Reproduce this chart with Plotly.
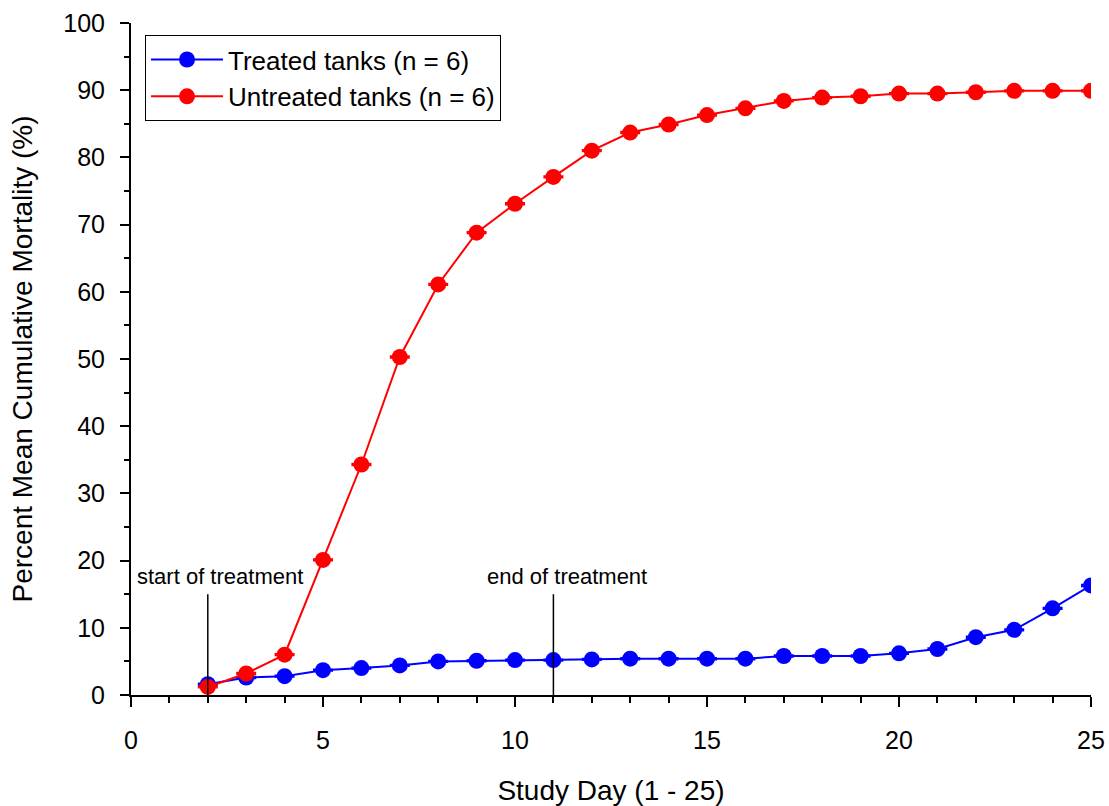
import plotly.graph_objects as go

days = list(range(2, 26))
treated = [1.6, 2.6, 2.8, 3.7, 4.0, 4.4, 5.0, 5.1, 5.2, 5.2, 5.3, 5.4, 5.4, 5.4, 5.4, 5.8, 5.8, 5.8, 6.2, 6.85, 8.6, 9.7, 12.9, 16.3]
untreated = [1.2, 3.2, 6.0, 20.1, 34.3, 50.3, 61.1, 68.8, 73.1, 77.1, 81.0, 83.7, 84.9, 86.3, 87.3, 88.4, 88.9, 89.1, 89.5, 89.5, 89.7, 89.9, 89.9, 89.9]
treated_err = [0.1] * len(days)
untreated_err = [0.1] * len(days)

start_day = 2
end_day = 11
marker_top = 15

FONT = "Liberation Sans, Arial, sans-serif"

fig = go.Figure()
fig.add_trace(go.Scatter(
    x=days, y=treated, mode="lines+markers", name="Treated tanks (n = 6)",
    line=dict(color="#0000FF", width=2),
    marker=dict(color="#0000FF", size=16),
    error_y=dict(type="data", array=treated_err, color="#0000FF", thickness=2, width=10),
))
fig.add_trace(go.Scatter(
    x=days, y=untreated, mode="lines+markers", name="Untreated tanks (n = 6)",
    line=dict(color="#FF0000", width=2),
    marker=dict(color="#FF0000", size=16),
    error_y=dict(type="data", array=untreated_err, color="#FF0000", thickness=2, width=10),
))

for d in (start_day, end_day):
    fig.add_shape(type="line", x0=d, x1=d, y0=0, y1=marker_top,
                  xref="x", yref="y", line=dict(color="black", width=1.5))

fig.add_annotation(x=start_day, y=marker_top, text="start of treatment", showarrow=False,
                   xref="x", yref="y", yanchor="bottom", yshift=3, xshift=12,
                   font=dict(size=22, color="black", family=FONT))
fig.add_annotation(x=end_day, y=marker_top, text="end of treatment", showarrow=False,
                   xref="x", yref="y", yanchor="bottom", yshift=3, xshift=14,
                   font=dict(size=22, color="black", family=FONT))

fig.update_layout(
    width=1109, height=806,
    margin=dict(l=131, r=18, t=23, b=111),
    paper_bgcolor="white", plot_bgcolor="white",
    font=dict(family=FONT, size=25, color="black"),
    showlegend=True,
    legend=dict(x=0.0146, y=0.982, xanchor="left", yanchor="top",
                bordercolor="black", borderwidth=1, bgcolor="white",
                font=dict(size=26), tracegroupgap=0, itemwidth=72),
    xaxis=dict(
        range=[0, 25], showgrid=False, zeroline=False, automargin=False,
        showline=True, linecolor="black", linewidth=2,
        ticks="outside", ticklen=10, tickwidth=2, tickcolor="black",
        tickmode="array", tickvals=[0, 5, 10, 15, 20, 25],
        minor=dict(ticks="outside", ticklen=6, tickwidth=2, tickcolor="black", dtick=1, tick0=0),
        title=dict(text="Study Day (1 - 25)", font=dict(size=28), standoff=27),
        tickfont=dict(size=25), ticklabelstandoff=12,
    ),
    yaxis=dict(
        range=[0, 100], showgrid=False, zeroline=False, automargin=False,
        showline=True, linecolor="black", linewidth=2,
        ticks="outside", ticklen=9, tickwidth=2, tickcolor="black",
        tickmode="array", tickvals=list(range(0, 101, 10)),
        minor=dict(ticks="outside", ticklen=5, tickwidth=2, tickcolor="black", dtick=5, tick0=0),
        title=dict(text="Percent Mean Cumulative Mortality (%)", font=dict(size=28), standoff=22),
        tickfont=dict(size=25), ticklabelstandoff=10,
    ),
)

fig.write_html(
    "out.html",
    config={"displayModeBar": False},
    post_script="document.body.style.margin='0';document.body.style.overflow='hidden';",
)
